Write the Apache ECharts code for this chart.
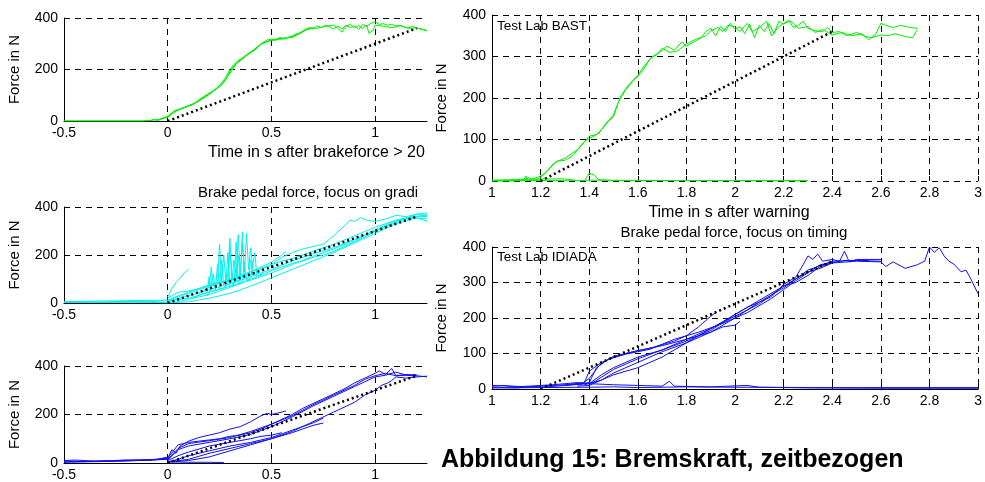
<!DOCTYPE html>
<html>
<head>
<meta charset="utf-8">
<script src="https://cdn.jsdelivr.net/npm/echarts@6/dist/echarts.min.js"></script>
<style>
  html, body { margin: 0; padding: 0; background: #fff; }
  #chart { width: 985px; height: 482px; }
</style>
</head>
<body>
<div id="chart"></div>
<script>
// tick labels
const leftXTicks = [-0.5, 0, 0.5, 1];
const rightXTicks = [1, 1.2, 1.4, 1.6, 1.8, 2, 2.2, 2.4, 2.6, 2.8, 3];

// reference ramps (black dotted)
const rampLeft = [[0, 0], [1.2, 360]];
const rampRight = [[1.2, 0], [2.4, 360]];

// panel 1: green, time after brakeforce > 20 N
const green1a = [[-0.5,0],[-0.12,0],[-0.1,3],[-0.08,1],[-0.06,8],[-0.04,4],[-0.02,12],[0,16],[0.02,30],[0.04,42],[0.06,45],[0.08,52],[0.1,58],[0.12,62],[0.14,75],[0.16,88],[0.18,98],[0.2,108],[0.22,118],[0.24,130],[0.26,148],[0.28,170],[0.3,200],[0.32,220],[0.34,235],[0.36,245],[0.38,258],[0.4,268],[0.42,280],[0.44,292],[0.46,305],[0.48,315],[0.5,318],[0.52,312],[0.54,325],[0.56,318],[0.58,325],[0.6,330],[0.62,338],[0.64,342],[0.66,355],[0.68,360],[0.7,358],[0.72,370],[0.74,362],[0.76,372],[0.78,365],[0.8,358],[0.82,368],[0.84,358],[0.86,372],[0.88,362],[0.9,370],[0.92,355],[0.94,375],[0.96,368],[0.98,380],[1.0,385],[1.02,375],[1.04,378],[1.06,372],[1.08,375],[1.1,368],[1.12,372],[1.14,365],[1.16,362],[1.18,368],[1.2,360],[1.22,358],[1.25,352]];
const green1b = [[-0.5,0],[-0.1,0],[-0.07,5],[-0.05,2],[-0.03,10],[0,18],[0.03,38],[0.06,48],[0.09,55],[0.12,65],[0.15,80],[0.18,95],[0.21,112],[0.24,128],[0.27,152],[0.3,185],[0.33,222],[0.36,240],[0.39,262],[0.42,275],[0.45,298],[0.48,308],[0.5,312],[0.53,320],[0.56,322],[0.6,325],[0.64,340],[0.68,362],[0.72,360],[0.76,368],[0.8,372],[0.82,360],[0.84,345],[0.86,368],[0.88,375],[0.9,362],[0.92,370],[0.94,360],[0.96,372],[0.97,340],[0.99,352],[1.0,372],[1.04,368],[1.08,362],[1.12,370],[1.16,360],[1.2,362],[1.25,350]];
const green1c = [[-0.05,3],[0,14],[0.03,33],[0.06,46],[0.1,60],[0.14,72],[0.18,92],[0.22,115],[0.26,140],[0.28,160],[0.3,192],[0.32,215],[0.35,238],[0.4,265],[0.45,300],[0.5,315],[0.55,318],[0.6,328],[0.65,348],[0.7,362]];

// panel 2: cyan, gradient focus
const cyan1 = [[-0.5,5],[-0.4,5],[-0.3,4],[-0.2,6],[-0.1,5],[-0.05,7],[0,10],[0.05,25],[0.1,40],[0.15,55],[0.2,70],[0.25,85],[0.3,100],[0.35,115],[0.4,130],[0.45,145],[0.5,160],[0.55,175],[0.6,185],[0.65,200],[0.7,215],[0.75,230],[0.8,245],[0.85,262],[0.9,280],[0.95,298],[1.0,315],[1.05,330],[1.1,345],[1.15,355],[1.2,362],[1.25,360]];
const cyan2 = [[-0.5,3],[-0.3,3],[-0.15,8],[-0.1,3],[0,2],[0.05,5],[0.1,15],[0.15,25],[0.2,35],[0.25,50],[0.3,65],[0.35,80],[0.4,100],[0.45,115],[0.5,135],[0.55,150],[0.6,165],[0.65,175],[0.7,190],[0.75,200],[0.8,215],[0.85,235],[0.9,255],[0.95,275],[1.0,300],[1.05,320],[1.1,340],[1.15,350],[1.2,355],[1.25,340]];
const cyan3 = [[-0.5,6],[0,12],[0.05,30],[0.1,45],[0.2,75],[0.3,95],[0.4,120],[0.5,160],[0.55,190],[0.6,210],[0.65,225],[0.7,235],[0.75,245],[0.8,280],[0.85,320],[0.88,345],[0.9,340],[0.93,355],[0.96,345],[1.0,340],[1.05,350],[1.1,365],[1.15,360],[1.2,370],[1.25,365]];
const cyan4 = [[0,25],[0.02,60],[0.04,85],[0.06,105],[0.08,125],[0.1,140]];
const cyan5 = [[0,20],[0.05,45],[0.1,50],[0.15,60],[0.2,75],[0.25,85],[0.3,90],[0.35,110],[0.4,130],[0.45,150],[0.5,170],[0.55,200],[0.57,215]];
const cyan6 = [[0.15,40],[0.18,55],[0.2,65],[0.21,150],[0.22,70],[0.24,80],[0.25,245],[0.26,90],[0.27,200],[0.28,95],[0.29,120],[0.3,270],[0.31,100],[0.32,180],[0.33,110],[0.34,285],[0.35,120],[0.36,250],[0.37,130],[0.38,290],[0.39,140],[0.4,230],[0.41,150]];
const cyan7 = [[0.18,30],[0.2,40],[0.22,120],[0.23,50],[0.25,60],[0.26,180],[0.27,70],[0.29,75],[0.3,230],[0.31,80],[0.33,90],[0.34,200],[0.35,95],[0.36,295],[0.37,100],[0.39,110],[0.4,180],[0.41,115],[0.43,120]];
const cyan8 = [[-0.5,2],[-0.05,3],[0,0],[0.1,5],[0.2,20],[0.3,40],[0.4,70],[0.5,105],[0.6,140],[0.7,175],[0.8,210],[0.9,250],[1.0,290],[1.1,330],[1.2,355],[1.25,350]];
const cyan9 = [[0,5],[0.1,30],[0.2,55],[0.3,80],[0.4,110],[0.5,140],[0.6,175],[0.7,205],[0.8,230],[0.9,265],[1.0,300],[1.1,335],[1.2,370],[1.25,375]];
const cyan10 = [[0.12,20],[0.16,35],[0.19,45],[0.2,110],[0.21,48],[0.23,55],[0.24,160],[0.25,58],[0.28,65],[0.29,210],[0.3,70],[0.32,78],[0.33,255],[0.34,82],[0.36,90],[0.37,170],[0.38,95],[0.4,105],[0.42,210],[0.43,110],[0.46,125]];
const cyan11 = [[0,8],[0.1,20],[0.2,45],[0.3,70],[0.4,95],[0.5,125],[0.6,160],[0.7,195],[0.8,225],[0.9,260],[1.0,305],[1.1,345],[1.2,360],[1.25,368]];

// panel 3: blue, left side
const blue1 = [[-0.5,8],[-0.4,6],[-0.3,9],[-0.2,12],[-0.1,10],[-0.05,14],[0,18],[0.02,55],[0.04,40],[0.06,70],[0.1,90],[0.15,105],[0.2,115],[0.25,125],[0.3,140],[0.35,150],[0.4,170],[0.45,195],[0.48,205],[0.5,200],[0.55,210],[0.57,215]];
const blue2 = [[-0.5,5],[-0.3,7],[-0.1,12],[0,20],[0.05,75],[0.1,85],[0.15,90],[0.2,95],[0.25,100],[0.3,110],[0.35,115],[0.4,125],[0.45,140],[0.5,160],[0.55,180],[0.6,200],[0.65,225],[0.7,245],[0.75,265],[0.8,285],[0.85,305],[0.9,330],[0.95,350],[1.0,370],[1.02,380],[1.05,365],[1.08,390],[1.1,360],[1.15,365],[1.2,360],[1.25,355]];
const blue3 = [[-0.5,3],[-0.2,8],[0,15],[0.05,60],[0.1,80],[0.2,92],[0.3,105],[0.4,130],[0.5,160],[0.6,195],[0.7,240],[0.8,280],[0.9,320],[0.95,345],[1.0,360],[1.05,370],[1.1,360],[1.15,362],[1.2,358]];
const blue4 = [[0,10],[0.05,30],[0.1,45],[0.2,70],[0.3,85],[0.4,100],[0.45,110],[0.5,115],[0.55,125]];
const blue5 = [[0,5],[0.05,15],[0.1,30],[0.2,50],[0.3,70],[0.4,85],[0.5,105],[0.6,135],[0.65,150],[0.7,165],[0.75,185]];
const blue6 = [[0,3],[0.1,10],[0.2,25],[0.3,50],[0.4,75],[0.5,100],[0.6,125],[0.7,155],[0.75,165]];
const blue7 = [[0,5],[0.1,15],[0.2,40],[0.3,60],[0.4,80],[0.5,100],[0.6,130],[0.7,170],[0.8,210],[0.9,250],[0.95,280],[1.0,300],[1.03,320],[1.06,330],[1.08,340],[1.1,355],[1.15,350],[1.2,355],[1.25,358]];
const blue8 = [[0,5],[0.1,3],[0.2,3],[0.27,2]];
const blue9 = [[-0.5,10],[-0.45,12],[-0.35,8],[-0.25,10],[-0.15,13],[-0.05,15],[0,25]];
const blue10 = [[0,12],[0.05,55],[0.1,70],[0.2,85],[0.3,100],[0.4,118],[0.5,150],[0.6,190],[0.7,235],[0.8,275],[0.9,315],[1.0,355],[1.05,362],[1.1,375],[1.15,362],[1.2,365]];

// panel 4: Test Lab BAST (green), time after warning
const bast1 = [[1,0],[1.1,0],[1.13,2],[1.14,12],[1.15,0],[1.17,5],[1.19,10],[1.2,12],[1.22,20],[1.25,40],[1.27,48],[1.3,50],[1.33,60],[1.36,80],[1.4,108],[1.43,112],[1.46,130],[1.5,160],[1.53,205],[1.56,230],[1.6,255],[1.63,280],[1.66,300],[1.69,310],[1.72,325],[1.75,315],[1.78,335],[1.8,325],[1.83,335],[1.86,345],[1.88,360],[1.9,368],[1.92,350],[1.94,372],[1.96,360],[1.98,380],[2.0,365],[2.02,372],[2.04,355],[2.06,378],[2.08,345],[2.1,375],[2.12,360],[2.14,380],[2.16,355],[2.18,385],[2.2,378],[2.22,388],[2.24,370],[2.26,375],[2.28,385],[2.3,368],[2.33,362],[2.36,360],[2.38,370],[2.4,358],[2.43,360],[2.46,350],[2.5,358],[2.53,350],[2.56,345],[2.6,352],[2.63,350],[2.66,355],[2.7,348],[2.73,345],[2.75,365]];
const bast2 = [[1,0],[1.12,0],[1.15,8],[1.18,2],[1.2,8],[1.23,25],[1.26,45],[1.3,55],[1.35,75],[1.38,95],[1.4,102],[1.44,115],[1.47,140],[1.5,155],[1.52,190],[1.55,220],[1.58,240],[1.62,265],[1.65,295],[1.68,305],[1.7,320],[1.73,310],[1.76,312],[1.8,330],[1.84,342],[1.88,350],[1.9,362],[1.93,370],[1.95,360],[1.97,375],[2.0,372],[2.02,360],[2.05,380],[2.07,360],[2.1,370],[2.13,385],[2.15,350],[2.18,372],[2.2,380],[2.23,385],[2.26,368],[2.3,372],[2.33,358],[2.36,365],[2.4,352],[2.44,358],[2.48,350],[2.52,355],[2.55,340],[2.58,355],[2.6,380],[2.62,375],[2.65,370],[2.68,375],[2.72,370],[2.75,368]];
const bast3 = [[1,1],[1.3,1],[1.38,0],[1.4,18],[1.42,15],[1.44,3],[1.5,1],[2.3,1]];
const bast4 = [[1,2],[1.2,5],[1.3,5],[1.35,1],[1.4,2],[2.3,0]];

// panel 5: Test Lab IDIADA (blue), time after warning
const idiada1 = [[1,8],[1.05,10],[1.1,6],[1.15,8],[1.2,10],[1.25,12],[1.3,15],[1.35,18],[1.4,15],[1.5,12],[1.6,10],[1.7,8],[1.73,22],[1.75,8],[1.9,6],[2.05,10],[2.1,5],[2.3,3],[2.6,2],[3,2]];
const idiada2 = [[1,5],[1.1,3],[1.2,8],[1.3,12],[1.38,18],[1.4,50],[1.42,60],[1.45,75],[1.5,88],[1.55,100],[1.6,108],[1.65,115],[1.7,125],[1.75,135],[1.8,150],[1.85,175],[1.9,205],[1.92,215]];
const idiada3 = [[1,10],[1.2,5],[1.3,10],[1.4,18],[1.43,60],[1.47,80],[1.5,92],[1.55,100],[1.6,108],[1.7,122],[1.8,140],[1.85,150],[1.9,170],[1.95,190],[2.0,210],[2.05,230],[2.1,245],[2.15,260],[2.2,295],[2.25,315],[2.28,350],[2.3,375],[2.32,365],[2.34,380],[2.36,360],[2.4,365],[2.43,360],[2.45,388],[2.47,358],[2.5,365],[2.55,365],[2.6,365]];
const idiada4 = [[1.3,10],[1.4,15],[1.45,40],[1.5,60],[1.55,75],[1.6,90],[1.7,110],[1.8,135],[1.9,165],[2.0,210],[2.1,250],[2.2,290],[2.25,310],[2.3,330],[2.35,340],[2.4,355],[2.5,360],[2.6,358],[2.62,345],[2.65,358],[2.7,340],[2.75,350],[2.78,360],[2.8,400],[2.82,385],[2.84,398],[2.86,375],[2.88,360],[2.9,352],[2.93,330],[2.95,335],[2.97,310],[3.0,268]];
const idiada5 = [[1.35,8],[1.4,10],[1.45,25],[1.5,45],[1.6,75],[1.7,105],[1.8,130],[1.85,150],[1.9,160],[1.95,175],[2.0,180],[2.02,190]];
const idiada6 = [[1.38,12],[1.42,20],[1.5,55],[1.6,85],[1.7,110],[1.8,140],[1.9,170],[2.0,205],[2.1,240],[2.15,265],[2.2,290],[2.25,300],[2.3,320],[2.35,345],[2.4,355]];
const idiada7 = [[1.4,15],[1.45,25],[1.5,40],[1.6,60],[1.7,90],[1.8,130],[1.9,160],[2.0,200],[2.1,245],[2.2,285],[2.3,335],[2.4,360],[2.5,362],[2.6,360]];
const idiada8 = [[1,3],[1.4,5],[1.5,6],[1.6,4],[1.8,6],[2.0,5],[2.4,4],[3,4]];
const idiada9 = [[1.36,10],[1.4,30],[1.44,65],[1.48,85],[1.55,98],[1.65,112],[1.75,140],[1.85,160],[1.95,185],[2.05,215],[2.15,255],[2.25,305],[2.35,350],[2.45,362],[2.55,362]];

const GREEN = '#00ee00', CYAN = '#00f0f0', BLUE = '#1010f0';
const FONT = 'Liberation Sans, Arial, Helvetica, sans-serif';

const chart = echarts.init(document.getElementById('chart'));

function line(data, color, gi) {
    return {
        type: 'line', data: data, xAxisIndex: gi, yAxisIndex: gi,
        showSymbol: false, symbol: 'none', silent: true, animation: false,
        lineStyle: { color: color, width: 1 }
    };
}
function ramp(data, gi) {
    return {
        type: 'line', data: data, xAxisIndex: gi, yAxisIndex: gi,
        showSymbol: false, symbol: 'none', silent: true, animation: false, z: 5,
        lineStyle: { color: '#000', width: 2.5, type: [2, 3] }
    };
}

const dash = { show: true, lineStyle: { color: '#000', width: 1, type: [6, 5] } };

function xAxis(gi, left) {
    return {
        type: 'value', gridIndex: gi,
        min: left ? -0.5 : 1, max: left ? 1.25 : 3, interval: left ? 0.5 : 0.2,
        axisLine: { show: gi !== 3, onZero: false, lineStyle: { color: '#000', width: 1 } },
        axisTick: { show: true, inside: true, length: 5, lineStyle: { color: '#000' } },
        axisLabel: { color: '#000', fontSize: 14, fontFamily: FONT, margin: 5, showMaxLabel: !left },
        splitLine: Object.assign({ showMaxLine: !left }, dash)
    };
}
function yAxis(gi, left) {
    return {
        type: 'value', gridIndex: gi, min: 0, max: 400, interval: left ? 200 : 100,
        name: 'Force in N', nameLocation: 'middle', nameGap: left ? 42 : 43,
        nameTextStyle: { color: '#000', fontSize: 15, fontFamily: FONT },
        axisLine: { show: true, onZero: false, lineStyle: { color: '#000', width: 1 } },
        axisTick: { show: true, inside: true, length: 5, lineStyle: { color: '#000' } },
        axisLabel: { color: '#000', fontSize: 14, fontFamily: FONT, margin: 6 },
        splitLine: dash
    };
}

const option = {
    backgroundColor: '#fff',
    animation: false,
    grid: [
        { left: 64, top: 18, width: 363, height: 103 },
        { left: 64, top: 207, width: 363, height: 96 },
        { left: 64, top: 366, width: 363, height: 98 },
        { left: 492, top: 15, width: 487, height: 166 },
        { left: 492, top: 247, width: 487, height: 142 }
    ],
    xAxis: [xAxis(0, true), xAxis(1, true), xAxis(2, true), xAxis(3, false), xAxis(4, false)],
    yAxis: [yAxis(0, true), yAxis(1, true), yAxis(2, true), yAxis(3, false), yAxis(4, false)],
    graphic: [
        { type: 'text', left: 208, top: 145, style: { text: 'Time in s after brakeforce > 20', fill: '#000', font: '16px ' + FONT } },
        { type: 'text', left: 198, top: 185, style: { text: 'Brake pedal force, focus on gradi', fill: '#000', font: '15px ' + FONT } },
        { type: 'text', x: 729, y: 213, style: { text: 'Time in s after warning', fill: '#000', font: '16px ' + FONT, align: 'center', verticalAlign: 'middle' } },
        { type: 'text', x: 734, y: 233, style: { text: 'Brake pedal force, focus on timing', fill: '#000', font: '15px ' + FONT, align: 'center', verticalAlign: 'middle' } },
        { type: 'text', left: 497, top: 19, style: { text: 'Test Lab BAST', fill: '#000', font: '13.5px ' + FONT } },
        { type: 'text', left: 497, top: 250, style: { text: 'Test Lab IDIADA', fill: '#000', font: '13.5px ' + FONT } },
        { type: 'text', left: 441, top: 448, style: { text: 'Abbildung 15: Bremskraft, zeitbezogen', fill: '#000', font: 'bold 25px ' + FONT } }
    ],
    series: [
        line(green1a, GREEN, 0), line(green1b, GREEN, 0), line(green1c, GREEN, 0), ramp(rampLeft, 0),
        line(cyan1, CYAN, 1), line(cyan2, CYAN, 1), line(cyan3, CYAN, 1), line(cyan4, CYAN, 1), line(cyan5, CYAN, 1),
        line(cyan6, CYAN, 1), line(cyan7, CYAN, 1), line(cyan8, CYAN, 1), line(cyan9, CYAN, 1),
        line(cyan10, CYAN, 1), line(cyan11, CYAN, 1), ramp(rampLeft, 1),
        line(blue1, BLUE, 2), line(blue2, BLUE, 2), line(blue3, BLUE, 2), line(blue4, BLUE, 2), line(blue5, BLUE, 2),
        line(blue6, BLUE, 2), line(blue7, BLUE, 2), line(blue8, BLUE, 2), line(blue9, BLUE, 2), line(blue10, BLUE, 2),
        ramp(rampLeft, 2),
        line(bast1, GREEN, 3), line(bast2, GREEN, 3), line(bast3, GREEN, 3), line(bast4, GREEN, 3), ramp(rampRight, 3),
        line(idiada1, BLUE, 4), line(idiada2, BLUE, 4), line(idiada3, BLUE, 4), line(idiada4, BLUE, 4),
        line(idiada5, BLUE, 4), line(idiada6, BLUE, 4), line(idiada7, BLUE, 4), line(idiada8, BLUE, 4),
        line(idiada9, BLUE, 4), ramp(rampRight, 4)
    ]
};

chart.setOption(option);
</script>
</body>
</html>
